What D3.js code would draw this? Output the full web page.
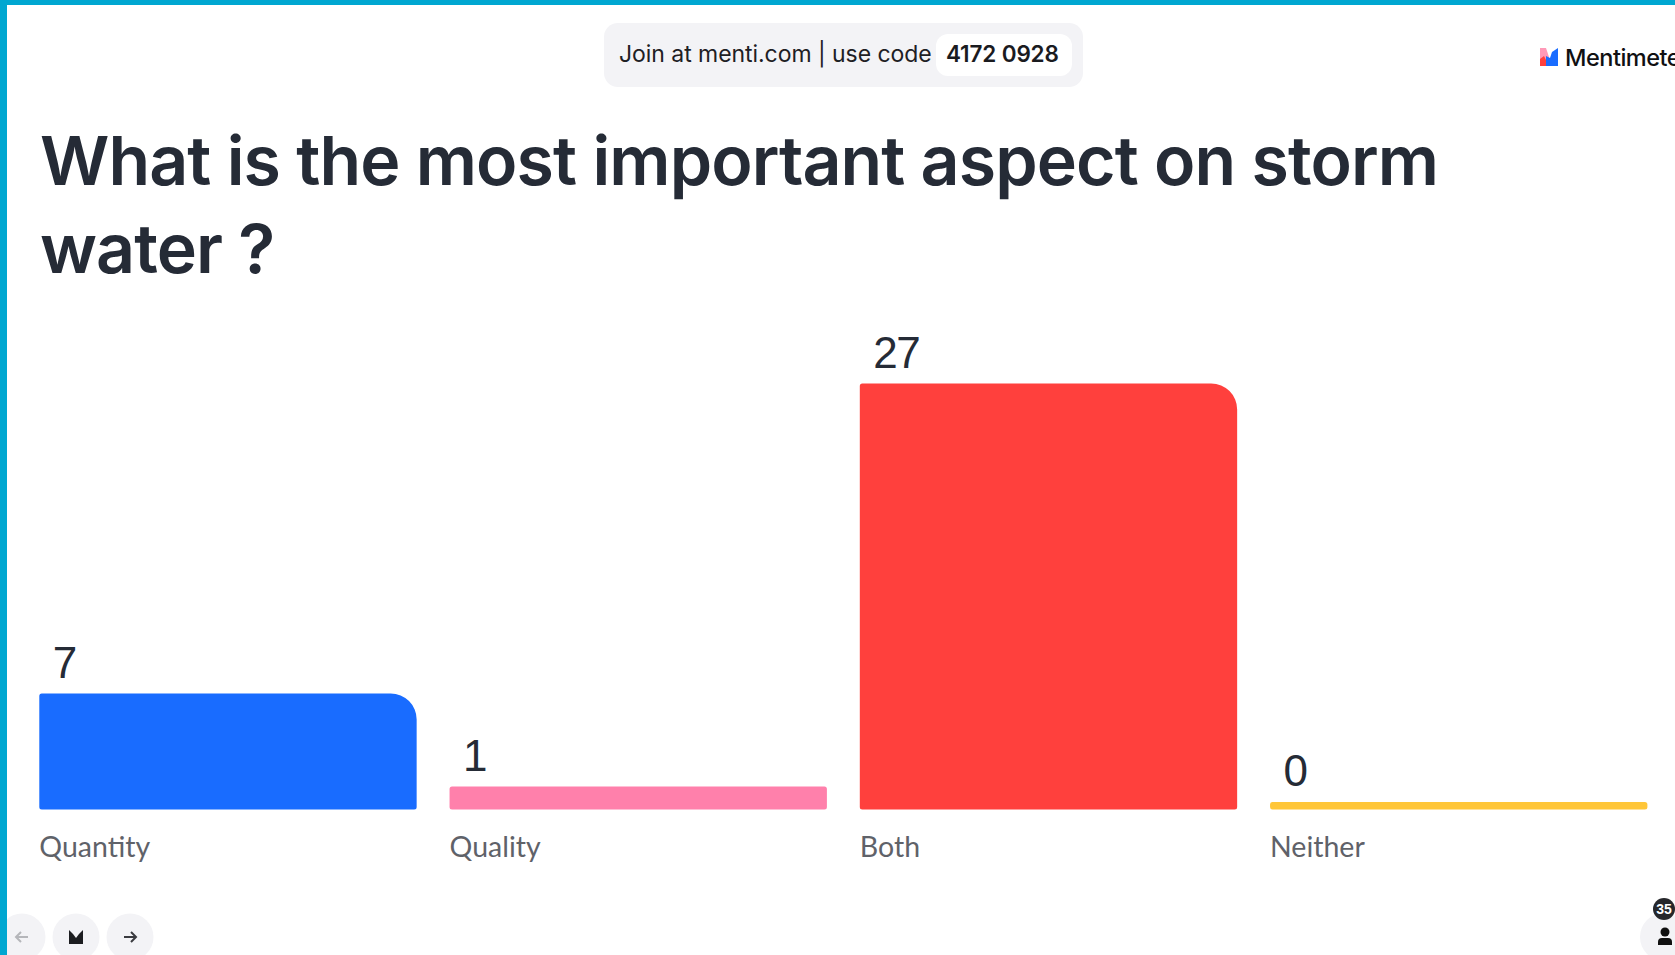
<!DOCTYPE html>
<html>
<head>
<meta charset="utf-8">
<title>Menti results</title>
<script src="https://cdn.jsdelivr.net/npm/d3@7/dist/d3.min.js"></script>
<style>
html,body{margin:0;padding:0;background:#fff;overflow:hidden}
svg{display:block}
</style>
</head>
<body>
<svg id="chart" width="1675" height="955"></svg>
<script>
const categories = ["Quantity", "Quality", "Both", "Neither"];
const votes = [7, 1, 27, 0];
const barColors = ["#196cff", "#ff80ab", "#ff403d", "#ffc638"];
const titleLines = ["What is the most important aspect on storm", "water ?"];
const joinText = "Join at menti.com | use code";
const joinCode = "4172 0928";
const participants = "35";

const ink = "#252b36";
const headingFont = "Inter, 'Noto Sans', sans-serif";
const bodyFont = "Lato, 'Open Sans', sans-serif";

const svg = d3.select("#chart");

// Bars always keep a small stub so that a zero count stays visible.
const baseline = 809.5;
const stub = 7.5;
const x = d3.scaleBand().domain(categories).range([39.3, 1647.4]).paddingInner(0.0802).paddingOuter(0);
const y = d3.scaleLinear().domain([0, 27]).range([baseline - stub, 383.5]);

// Bar with small corners, except a large one at the top right.
function barPath(x0, y0, w, h) {
  const rs = Math.min(2.5, h / 2);
  const big = h > 30 ? 26 : rs;
  return `M${x0 + rs},${y0}H${x0 + w - big}A${big},${big} 0 0 1 ${x0 + w},${y0 + big}` +
    `V${y0 + h - rs}A${rs},${rs} 0 0 1 ${x0 + w - rs},${y0 + h}H${x0 + rs}` +
    `A${rs},${rs} 0 0 1 ${x0},${y0 + h - rs}V${y0 + rs}A${rs},${rs} 0 0 1 ${x0 + rs},${y0}Z`;
}

const rows = categories.map((c, i) => ({ c, v: votes[i], color: barColors[i] }));

svg.append("g").selectAll("path").data(rows).join("path")
  .attr("d", d => barPath(x(d.c), y(d.v), x.bandwidth(), baseline - y(d.v)))
  .attr("fill", d => d.color);

svg.append("g").selectAll("text").data(rows).join("text")
  .attr("x", d => x(d.c) + 13.5)
  .attr("y", d => y(d.v) - 16)
  .attr("font-family", "'Liberation Sans', Arial, sans-serif")
  .attr("font-size", 44)
  .attr("letter-spacing", -1.5)
  .attr("fill", ink)
  .text(d => d.v);

svg.append("g").selectAll("text").data(rows).join("text")
  .attr("x", d => x(d.c))
  .attr("y", 857)
  .attr("font-family", bodyFont)
  .attr("font-size", 28.5)
  .attr("fill", "#5f6269")
  .text(d => d.c);

// Heading
svg.append("g").selectAll("text").data(titleLines).join("text")
  .attr("x", 40)
  .attr("y", (d, i) => 185 + i * 88)
  .attr("font-family", headingFont)
  .attr("font-weight", 600)
  .attr("font-size", 68)
  .attr("letter-spacing", -0.9)
  .attr("fill", ink)
  .text(d => d);

// Join banner
svg.append("rect").attr("x", 604).attr("y", 23).attr("width", 479).attr("height", 64).attr("rx", 14).attr("fill", "#f3f3f6");
svg.append("rect").attr("x", 936).attr("y", 34).attr("width", 136).attr("height", 42).attr("rx", 12).attr("fill", "#fff");
svg.append("text").attr("x", 619).attr("y", 62)
  .attr("font-family", headingFont).attr("font-size", 23).attr("letter-spacing", -0.05).attr("fill", "#1e2024").text(joinText);
svg.append("text").attr("x", 946).attr("y", 62)
  .attr("font-family", headingFont).attr("font-weight", 600).attr("font-size", 22.5).attr("letter-spacing", -0.15).attr("fill", "#1a1b1f").text(joinCode);

// Brand mark and wordmark, which runs off the right edge
const brand = svg.append("g").attr("transform", "translate(1540,48)");
brand.append("path").attr("d", "M0,0H6L9,9V18H0Z").attr("fill", "#ff9ab8");
brand.append("path").attr("d", "M0,18V11L4,8L9,18Z").attr("fill", "#ff403d");
brand.append("path").attr("d", "M18,0V18H6L6,8L10,10L12,4Z").attr("fill", "#196cff");
svg.append("text").attr("x", 1565).attr("y", 65.5)
  .attr("font-family", headingFont).attr("font-weight", 500).attr("font-size", 23.5).attr("letter-spacing", -0.5).attr("fill", "#101012").text("Mentimeter");

// Presenter controls along the bottom
const buttons = [22, 76, 130];
svg.append("g").selectAll("circle").data(buttons).join("circle")
  .attr("cx", d => d).attr("cy", 937).attr("r", 23.5).attr("fill", "#f3f3f6");
svg.append("path").attr("d", "M28,937H16M21,932L16,937L21,942")
  .attr("fill", "none").attr("stroke", "#b5b6ba").attr("stroke-width", 2);
svg.append("path").attr("d", "M69,944V930L73,934L76,938L79,934L83,930V944Z").attr("fill", "#1c1d20");
svg.append("path").attr("d", "M124,937H136M131,932L136,937L131,942")
  .attr("fill", "none").attr("stroke", "#3a3b40").attr("stroke-width", 2);

// Participant counter
svg.append("circle").attr("cx", 1664).attr("cy", 937).attr("r", 24).attr("fill", "#f3f3f6");
svg.append("circle").attr("cx", 1665).attr("cy", 932).attr("r", 4.5).attr("fill", "#111");
svg.append("path").attr("d", "M1658,945V942Q1658,938 1662,938H1668Q1672,938 1672,942V945Z").attr("fill", "#111");
svg.append("circle").attr("cx", 1664).attr("cy", 909).attr("r", 11).attr("fill", "#26272b");
svg.append("text").attr("x", 1664).attr("y", 914).attr("text-anchor", "middle")
  .attr("font-family", "'Liberation Sans', sans-serif").attr("font-weight", 700).attr("font-size", 14).attr("fill", "#fff").text(participants);

// Window frame
svg.append("rect").attr("width", 1675).attr("height", 5).attr("fill", "#00a7d1");
svg.append("rect").attr("width", 7).attr("height", 955).attr("fill", "#00a7d1");
</script>
</body>
</html>
